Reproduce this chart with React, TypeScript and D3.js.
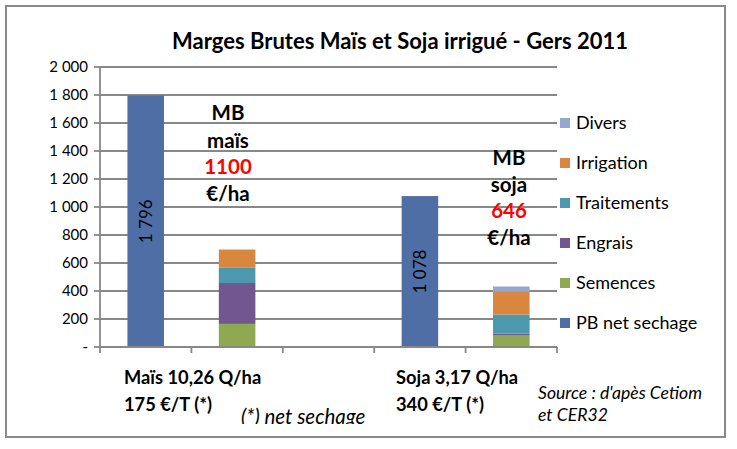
import React from 'react';
import * as d3 from 'd3';

// ---- Data ----
const categories = ['maisPB', 'maisCharges', 'vide', 'sojaPB', 'sojaCharges'];
const seriesKeys = ['PB net sechage', 'Semences', 'Engrais', 'Traitements', 'Irrigation', 'Divers'];
const pbNetSechage = [1796, 0, 0, 1078, 0];
const semences = [0, 165, 0, 0, 82];
const engrais = [0, 292, 0, 0, 14];
const traitements = [0, 112, 0, 0, 136];
const irrigationVals = [0, 127, 0, 0, 162];
const diversVals = [0, 0, 0, 0, 38];
const pbLabels = ['1 796', '', '', '1 078', ''];
const yTickValues = [0, 200, 400, 600, 800, 1000, 1200, 1400, 1600, 1800, 2000];
const legendOrder = ['Divers', 'Irrigation', 'Traitements', 'Engrais', 'Semences', 'PB net sechage'];

const colors: Record<string, string> = {
  'PB net sechage': '#4F6EA6',
  Semences: '#8EA94F',
  Engrais: '#715690',
  Traitements: '#4B98AF',
  Irrigation: '#D9873F',
  Divers: '#93A7D1',
};

const FONT = 'Lato, "Open Sans", sans-serif';

export default function App() {
  const W = 737, H = 449;
  const x0 = 100, x1 = 557, yBottom = 347, yTop = 67;

  const rows = categories.map((c, i) => ({
    cat: c,
    'PB net sechage': pbNetSechage[i],
    Semences: semences[i],
    Engrais: engrais[i],
    Traitements: traitements[i],
    Irrigation: irrigationVals[i],
    Divers: diversVals[i],
  }));

  const x = d3.scaleBand<string>().domain(categories).range([x0, x1]).paddingInner(0.6).paddingOuter(0.3);
  const y = d3.scaleLinear().domain([0, 2000]).range([yBottom, yTop]);
  const stack = d3.stack<any>().keys(seriesKeys);
  const layers = stack(rows);

  const step = (x1 - x0) / categories.length;
  const fmt = (v: number) => (v === 0 ? '-' : d3.format(',')(v).replace(/,/g, '\u00a0'));

  return (
    <svg width={W} height={H} style={{ position: 'absolute', left: 0, top: 0, background: '#fff' }} fontFamily={FONT}>
      <defs>
        <clipPath id="noteClip">
          <rect x={0} y={0} width={W} height={424} />
        </clipPath>
      </defs>
      <rect x={6} y={6} width={719} height={431} fill="#fff" stroke="#8a8a8a" strokeWidth={2} />

      {/* title */}
      <text x={400} y={49} textAnchor="middle" fontSize={22} fontWeight="bold" fill="#000">
        Marges Brutes Maïs et Soja irrigué - Gers 2011
      </text>

      {/* gridlines */}
      {yTickValues.map((v) => (
        <g key={v}>
          <line x1={x0} x2={x1} y1={y(v)} y2={y(v)} stroke="#888" strokeWidth={1.8} />
          <line x1={x0 - 6} x2={x0} y1={y(v)} y2={y(v)} stroke="#888" strokeWidth={1.8} />
          <text x={88} y={y(v)} dy="0.35em" textAnchor="end" fontSize={15} fill="#000">
            {fmt(v)}
          </text>
        </g>
      ))}
      {/* axes */}
      <line x1={x0} x2={x0} y1={yTop} y2={yBottom} stroke="#888" strokeWidth={1.8} />
      {d3.range(categories.length + 1).map((i) => (
        <line key={i} x1={x0 + i * step} x2={x0 + i * step} y1={yBottom} y2={yBottom + 6} stroke="#888" strokeWidth={1.8} />
      ))}

      {/* bars */}
      {layers.map((layer) => (
        <g key={layer.key} fill={colors[layer.key]}>
          {layer.map((d: any, i: number) =>
            d[1] - d[0] > 0 ? (
              <rect key={i} x={x(categories[i])} width={x.bandwidth()} y={y(d[1])} height={y(d[0]) - y(d[1])} />
            ) : null
          )}
        </g>
      ))}
      {/* axis base line on top */}
      <line x1={x0} x2={x1} y1={yBottom} y2={yBottom} stroke="#888" strokeWidth={1.8} />

      {/* value labels */}
      {categories.map((c, i) =>
        pbLabels[i] ? (
          <text
            key={c}
            transform={`translate(${(x(c) as number) + x.bandwidth() / 2},${y(pbNetSechage[i] / 2)}) rotate(-90)`}
            textAnchor="middle"
            dy="0.35em"
            fontSize={17}
            fill="#000"
          >
            {pbLabels[i]}
          </text>
        ) : null
      )}

      {/* MB annotations */}
      <g fontSize={20.5} fontWeight="bold" textAnchor="middle">
        <text x={228} y={113} dy="0.35em" fill="#000">MB</text>
        <text x={228} y={141} dy="0.35em" fill="#000">maïs</text>
        <text x={228} y={167} dy="0.35em" fill="#FF0000">1100</text>
        <text x={228} y={194} dy="0.35em" fill="#000">€/ha</text>
        <text x={509} y={158} dy="0.35em" fill="#000">MB</text>
        <text x={509} y={185} dy="0.35em" fill="#000">soja</text>
        <text x={509} y={211} dy="0.35em" fill="#FF0000">646</text>
        <text x={509} y={238} dy="0.35em" fill="#000">€/ha</text>
      </g>

      {/* legend */}
      {legendOrder.map((k, i) => (
        <g key={k} transform={`translate(560,${123 + i * 40})`}>
          <rect x={0} y={-5} width={10} height={10} fill={colors[k]} />
          <text x={16} y={0} dy="0.35em" fontSize={18} fill="#000">{k}</text>
        </g>
      ))}

      {/* bottom notes */}
      <g fontSize={18.3} fontWeight="bold" fill="#000">
        <text x={124} y={378} dy="0.35em">Maïs 10,26 Q/ha</text>
        <text x={124} y={405} dy="0.35em">175 €/T (*)</text>
        <text x={396} y={378} dy="0.35em">Soja 3,17 Q/ha</text>
        <text x={396} y={405} dy="0.35em">340 €/T (*)</text>
      </g>
      <g fontStyle="italic" fill="#000">
        <text x={241} y={417} dy="0.35em" fontSize={20.5} clipPath="url(#noteClip)">(*) net sechage</text>
        <text x={538} y={393} dy="0.35em" fontSize={17.6}>Source : d'apès Cetiom</text>
        <text x={538} y={415} dy="0.35em" fontSize={17.6}>et CER32</text>
      </g>
    </svg>
  );
}
